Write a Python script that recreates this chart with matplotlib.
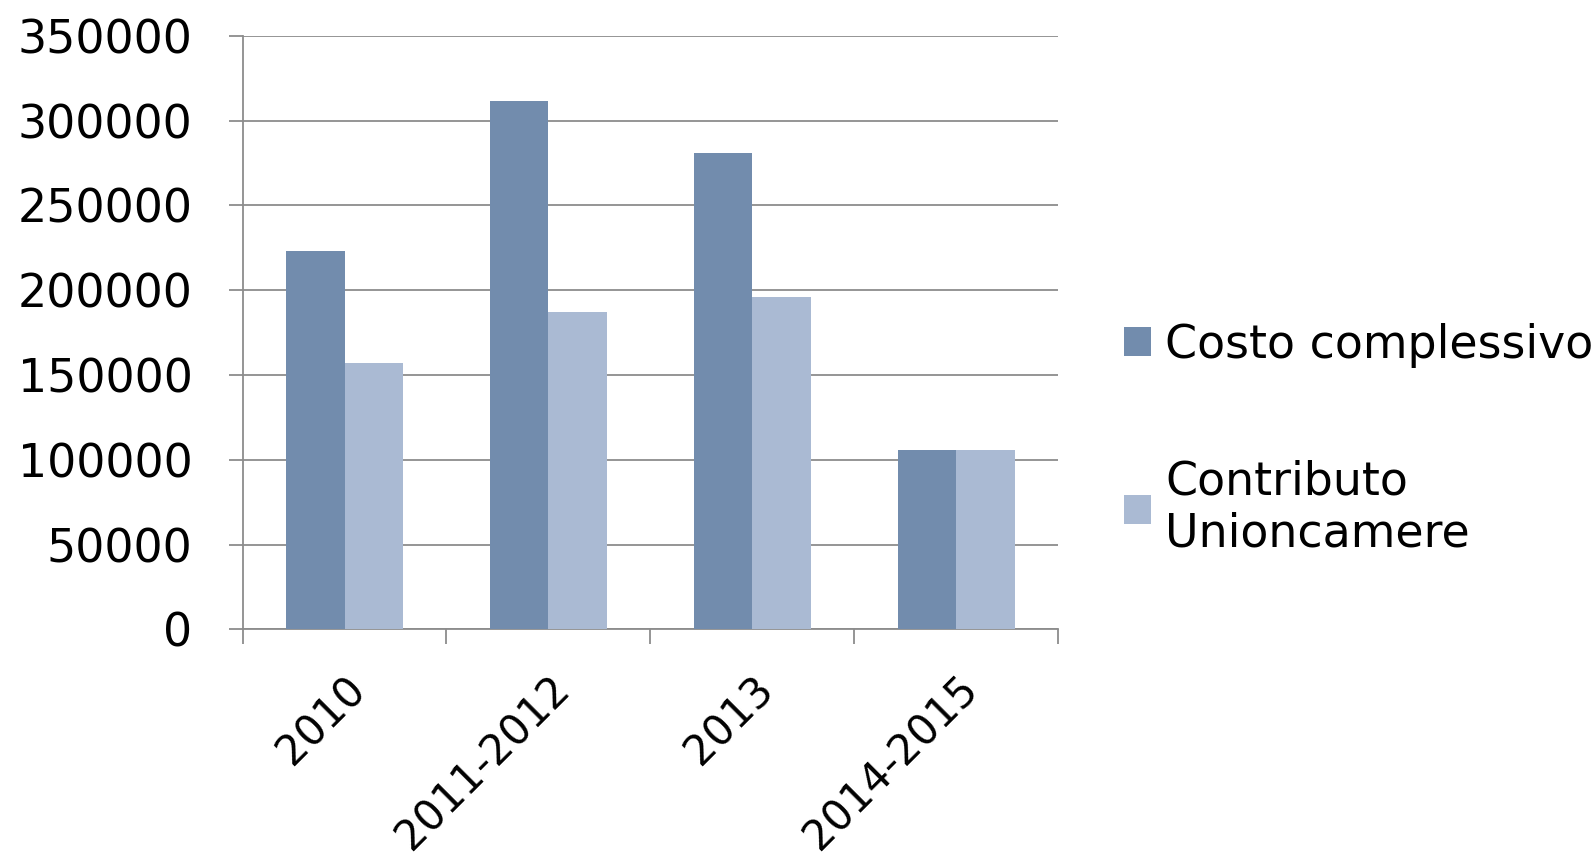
import numpy as np
import matplotlib.pyplot as plt

categories = ["2010", "2011-2012", "2013", "2014-2015"]
costo = [223000, 311500, 281000, 106000]
contributo = [157000, 187000, 196000, 106000]
series_names = ["Costo complessivo", "Contributo\nUnioncamere"]
yticks = [0, 50000, 100000, 150000, 200000, 250000, 300000, 350000]

plt.rcParams['font.family'] = ['DejaVu Sans']

fig = plt.figure(figsize=(15.96, 8.55), dpi=100)
ax = fig.add_axes([0.152, 0.264, 0.511, 0.694])

x = np.arange(len(categories))
w = 0.286
ax.bar(x - w / 2, costo, w, color="#728CAD", label=series_names[0], zorder=3)
ax.bar(x + w / 2, contributo, w, color="#AABAD3", label=series_names[1], zorder=3)

ax.set_xlim(-0.5, len(categories) - 0.5)
ax.set_ylim(0, 350000)
ax.set_yticks(yticks)
ax.set_yticklabels([str(v) for v in yticks], fontsize=33)
ax.yaxis.grid(True, color="#8c8c8c", linewidth=1.3, zorder=0)

ax.set_xticks(x)
ax.set_xticklabels(categories, fontsize=30, rotation=45, ha="right", rotation_mode="anchor")
ax.set_xticks(np.arange(len(categories) + 1) - 0.5, minor=True)
ax.tick_params(axis="x", which="major", length=0, pad=28)
ax.tick_params(axis="x", which="minor", length=11, color="#8c8c8c", width=1.3)
ax.tick_params(axis="y", length=10, color="#8c8c8c", width=1.3, pad=26)

for s in ["top", "right"]:
    ax.spines[s].set_visible(False)
for s in ["left", "bottom"]:
    ax.spines[s].set_color("#8c8c8c")
    ax.spines[s].set_linewidth(1.3)

ax.legend(loc="center left", bbox_to_anchor=(1.03, 0.32), frameon=False,
          fontsize=33, handlelength=0.6, handleheight=0.6, handletextpad=0.3,
          labelspacing=2.0)

fig.savefig("out.png", dpi=100)
